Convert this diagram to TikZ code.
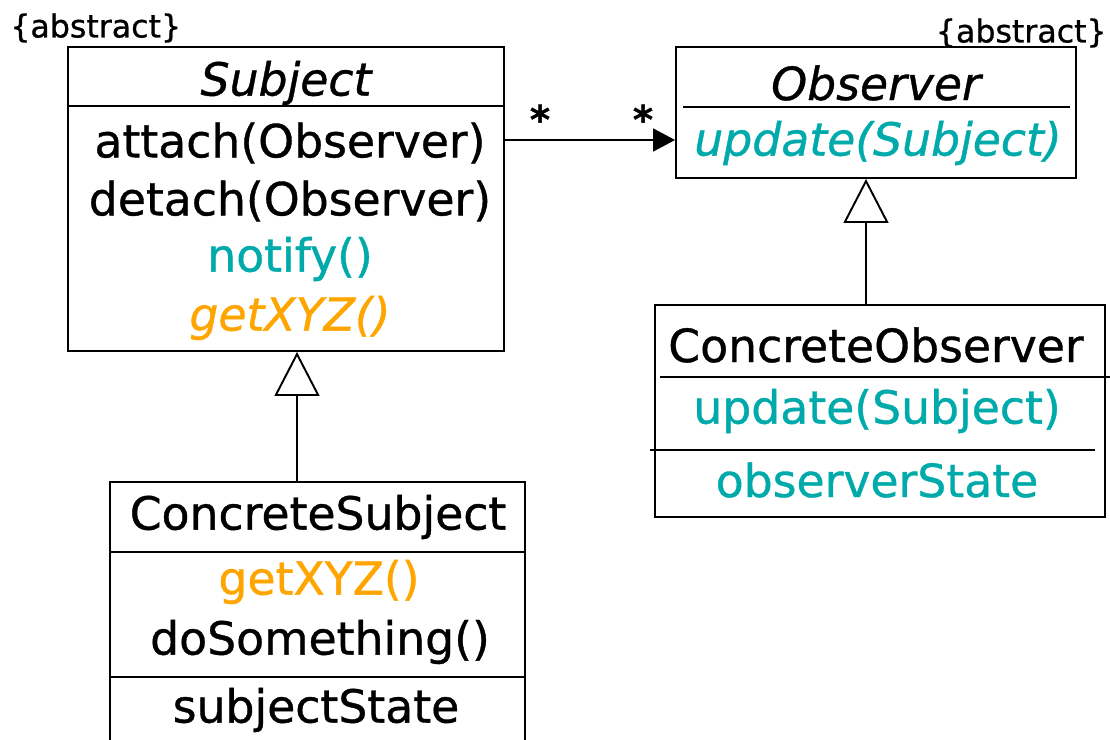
\documentclass[tikz,border=0pt]{standalone}
\usepackage{fontspec}
\setmainfont{DejaVu Sans}[FakeBold=0.8]
\usetikzlibrary{arrows.meta,fit}
\definecolor{umlteal}{RGB}{0,170,170}
\definecolor{umlorange}{RGB}{255,165,0}
\tikzset{
  classbox/.style={draw, line width=1.1pt, inner sep=0pt},
  member/.style={font=\fontsize{26}{30}\selectfont, inner sep=0pt, anchor=center},
  classname/.style={member, font=\fontsize{26}{30}\selectfont\itshape},
  stereo/.style={font=\fontsize{18}{21}\selectfont, inner sep=0pt},
  divider/.style={line width=1pt},
  generalize/.style={line width=1pt, -{Triangle[open, length=0.88cm, width=0.9cm, line width=1.1pt]}},
  navigate/.style={line width=1pt, -{Triangle[length=0.44cm, width=0.46cm]}}
}
\begin{document}
\begin{tikzpicture}[x=0.02cm, y=-0.02cm]
	\useasboundingbox (0,0) rectangle (1110,740);
	\clip (0,0) rectangle (1110,740);
	% Draw the class boxes
	\node[classbox, fit={(68,47) (504,351)}] (subject) {};
	\node[classbox, fit={(676,47) (1076,178)}] (observer) {};
	\node[classbox, fit={(655,305) (1105,517)}] (cobserver) {};
	\node[classbox, fit={(110,482) (525,780)}] (csubject) {};
	% Compartment lines
	\draw[divider] (68,106) -- (504,106);
	\draw[divider] (683,107) -- (1070,107);
	\draw[divider] (660,377) -- (1110,377);
	\draw[divider] (650,450) -- (1095,450);
	\draw[divider] (110,552) -- (525,552);
	\draw[divider] (110,677) -- (525,677);
	% Stereotypes
	\node[stereo, anchor=west] (absS) at (10,28) {\{abstract\}};
	\node[stereo, anchor=east] (absO) at (1107,33) {\{abstract\}};
	% Subject
	\node[classname] (subjectName) at (286,83) {Subject};
	\node[member] (attach) at (290,143) {attach(Observer)};
	\node[member] (detach) at (290,201) {detach(Observer)};
	\node[member, text=umlteal] (notify) at (290,259) {notify()};
	\node[member, text=umlorange, font=\fontsize{26}{30}\selectfont\itshape] (getS) at (290,318) {getXYZ()};
	% Observer
	\node[classname] (observerName) at (876,83) {Observer};
	\node[member, text=umlteal, font=\fontsize{26}{30}\selectfont\itshape] (updateO) at (878,143) {update(Subject)};
	% ConcreteObserver
	\node[member] (cobserverName) at (876,345) {ConcreteObserver};
	\node[member, text=umlteal] (updateC) at (877,411) {update(Subject)};
	\node[member, text=umlteal] (ostate) at (877,480) {observerState};
	% ConcreteSubject
	\node[member] (csubjectName) at (318,517) {ConcreteSubject};
	\node[member, text=umlorange] (getC) at (319,582) {getXYZ()};
	\node[member] (doSome) at (320,642) {doSomething()};
	\node[member] (sstate) at (316,710) {subjectState};
	% Association with multiplicities
	\coordinate (assoc) at (0,140);
	\draw[navigate] (subject.east |- assoc) -- (observer.west |- assoc);
	\node[member, font=\fontsize{22}{26}\selectfont\bfseries] (multS) at (540,119) {*};
	\node[member, font=\fontsize{22}{26}\selectfont\bfseries] (multO) at (643,119) {*};
	% Generalizations
	\coordinate (sline) at (297,0);
	\coordinate (oline) at (866,0);
	\draw[generalize] (csubject.north -| sline) -- (subject.south -| sline);
	\draw[generalize] (cobserver.north -| oline) -- (observer.south -| oline);
\end{tikzpicture}
\end{document}
